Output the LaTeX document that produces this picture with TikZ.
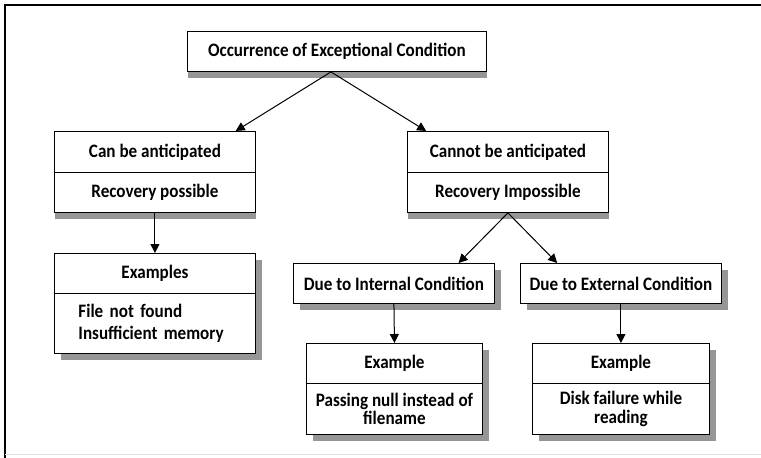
\documentclass[tikz,border=0pt]{standalone}
\usepackage{fontspec}
\setmainfont{Carlito}[FakeStretch=0.9]
\usetikzlibrary{arrows.meta,shadows,calc}
\definecolor{shadowgray}{RGB}{150,150,150}
\begin{document}
\begin{tikzpicture}[x=1pt,y=-1pt,
  boxfont/.style={font=\fontsize{19}{22}\selectfont\bfseries},
  basebox/.style={draw, line width=0.9pt, fill=white, inner sep=0pt,
    anchor=north west, minimum width=201pt, minimum height=40pt, boxfont},
  topshadow/.style={drop shadow={shadow xshift=1pt, shadow yshift=-6.5pt,
    fill=shadowgray, opacity=1}},
  lowshadow/.style={drop shadow={shadow xshift=6.5pt, shadow yshift=-6.5pt,
    fill=shadowgray, opacity=1}},
  link/.style={line width=1pt, -{Triangle[length=9pt,width=9pt]}}
]
\useasboundingbox (0,0) rectangle (761,458);

% page frame
\draw[line width=1.6pt] (761,5) -- (5,5) -- (5,458);
\draw[line width=0.8pt, black!12] (5,454) -- (761,454);

% root
\node[basebox, topshadow, minimum width=299pt] (root) at (187,31)
  {Occurrence of Exceptional Condition};

% first level, two-part boxes
\node[basebox, topshadow, minimum height=41pt] (canA) at (54,131) {Can be anticipated};
\node[basebox, topshadow] (canB) at (54,172) {Recovery possible};

\node[basebox, topshadow, minimum height=41pt] (cantA) at (407,131) {Cannot be anticipated};
\node[basebox, topshadow] (cantB) at (407,172) {Recovery Impossible};

% examples of anticipated exceptions
\node[basebox, lowshadow] (exA) at (54,253) {Examples};
\node[basebox, lowshadow, minimum height=60pt, align=left,
  text width=153pt, inner xsep=24pt,
  font=\fontsize{19}{22}\selectfont\bfseries] (exB) at (54,293)
  {File not found\\Insufficient memory};

% second level on the right
\node[basebox, lowshadow] (intl) at (293,263) {Due to Internal Condition};
\node[basebox, lowshadow] (extl) at (520,263) {Due to External Condition};

\node[basebox, lowshadow, minimum width=176pt] (ieA) at (306,343) {Example};
\node[basebox, lowshadow, minimum width=176pt, minimum height=51pt, align=center,
  font=\fontsize{19}{18.5}\selectfont\bfseries] (ieB) at (306,383)
  {Passing null instead of\\filename};

\node[basebox, lowshadow, minimum width=177pt] (eeA) at (532,343) {Example};
\node[basebox, lowshadow, minimum width=177pt, minimum height=51pt, align=center,
  font=\fontsize{19}{18.5}\selectfont\bfseries] (eeB) at (532,383)
  {Disk failure while\\reading};

% connectors
\coordinate (rootout) at ($(root.south west)!0.48!(root.south east)$);
\draw[link] (rootout) -- ($(canA.north west)!0.9!(canA.north east)$);
\draw[link] (rootout) -- ($(cantA.north west)!0.095!(cantA.north east)$);
\draw[link] (canB.south) -- (exA.north);
\draw[link] (cantB.south) -- ($(intl.north west)!0.82!(intl.north east)$);
\draw[link] (cantB.south) -- ($(extl.north west)!0.184!(extl.north east)$);
\draw[link] (intl.south) -- (ieA.north);
\draw[link] (extl.south) -- (eeA.north);
\end{tikzpicture}
\end{document}
